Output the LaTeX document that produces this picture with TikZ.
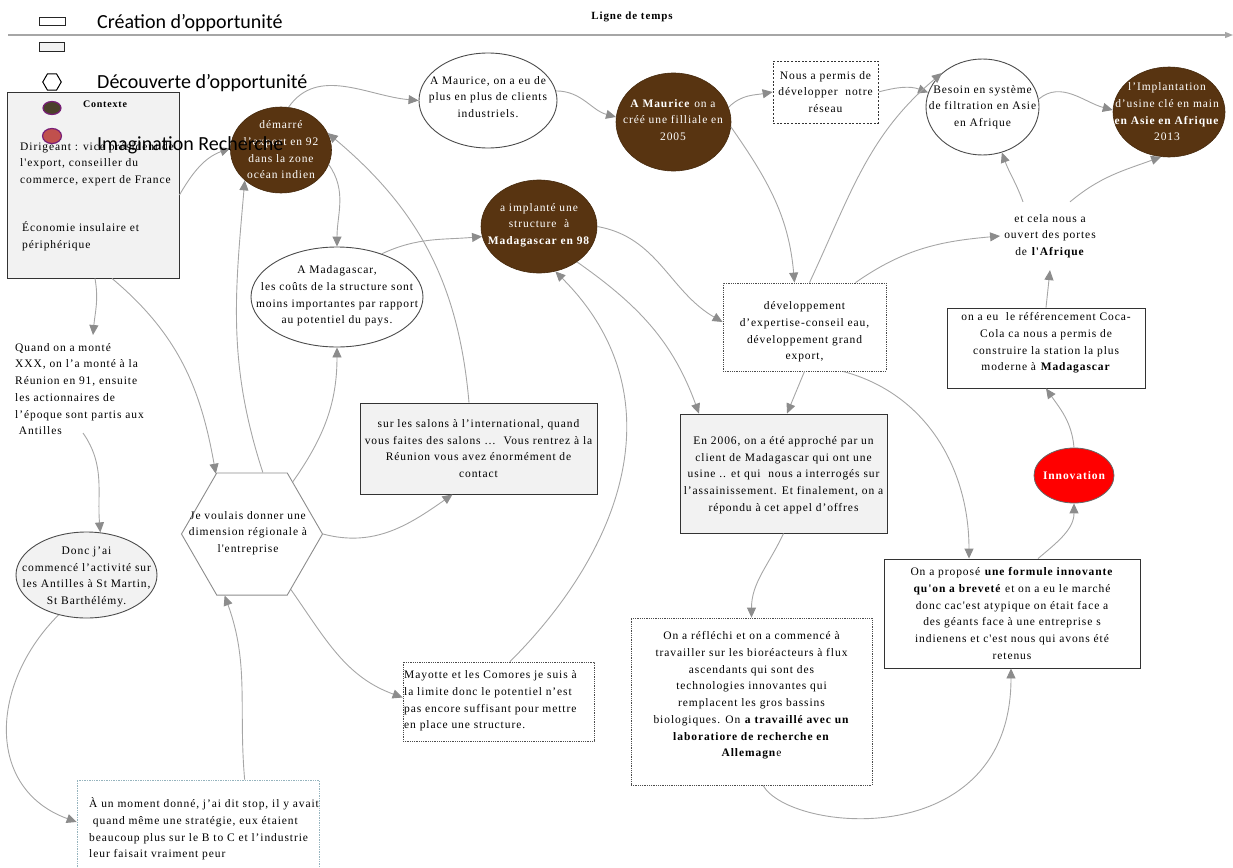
\documentclass[tikz,border=0pt]{standalone}
\usepackage{fontspec}
\newfontfamily\serfnt{Liberation Serif}[LetterSpace=8]
\newfontfamily\legfnt{Carlito}
\usetikzlibrary{shapes.geometric,arrows.meta,calc}
\definecolor{brownN}{RGB}{88,52,17}
\definecolor{conncol}{RGB}{166,166,166}
\definecolor{tipcol}{RGB}{140,140,140}
\definecolor{boxfill}{RGB}{242,242,242}
\definecolor{purp}{RGB}{120,30,120}
\definecolor{legdark}{RGB}{74,64,42}
\definecolor{legred}{RGB}{192,80,77}
\definecolor{momcol}{RGB}{150,180,190}
\tikzset{
  conn/.style={draw=conncol, line width=0.9pt, -{Triangle[length=10pt,width=9pt,color=tipcol]}},
  txt/.style={font=\serfnt\fontsize{11.5}{16.7}\selectfont, align=center, inner sep=0pt},
  wtxt/.style={txt, text=white},
  brownell/.style={ellipse, fill=brownN, draw=brownN!80!black, line width=0.6pt, inner sep=0pt},
  whiteell/.style={ellipse, draw=black!70, fill=white, line width=0.9pt, inner sep=0pt},
  sbox/.style={rectangle, draw=black!80, line width=0.9pt, fill=white, inner sep=0pt},
  gbox/.style={sbox, fill=boxfill},
  dbox/.style={rectangle, draw=black!70, densely dotted, line width=0.8pt, fill=white, inner sep=0pt},
  legtxt/.style={font=\legfnt\fontsize{20}{24}\selectfont, anchor=west, inner sep=0pt},
}
\begin{document}
\begin{tikzpicture}[x=1pt,y=-1pt]
\useasboundingbox (0,0) rectangle (1233,867);

% timeline
\coordinate (tlA) at (8,35);
\coordinate (tlB) at (1233,35);
\draw[draw=black!35, line width=1.3pt, -{Triangle[length=8pt,width=6pt]}] (tlA) -- (tlB);
\node[font=\serfnt\bfseries\fontsize{11}{13}\selectfont, inner sep=0] (LT) at (632,17) {Ligne de temps};

% context box
\node[gbox, minimum width=172pt, minimum height=186pt] (C) at (93,185) {};
\node[txt, font=\serfnt\bfseries\fontsize{10}{12}\selectfont] (CTt) at (105,104) {Contexte};
\node[txt, align=left, anchor=west] (CT1) at (20,164) {Dirigeant : vice président de\\l'export, conseiller du\\commerce, expert de France};
\node[txt, align=left, anchor=west] (CT2) at (22,236) {Économie insulaire et\\périphérique};

% ellipses
\node[brownell, minimum width=101pt, minimum height=86pt] (D) at (281,150) {};
\node[wtxt] (Dt) at (281,150) {démarré\\l’export en 92\\dans la zone\\océan indien};
\node[whiteell, minimum width=138pt, minimum height=95pt] (AM) at (488,100.5) {};
\node[txt] (AMt) at (488,97) {A Maurice, on a eu de\\plus en plus de clients\\industriels.};
\node[brownell, minimum width=115pt, minimum height=98pt] (AMB) at (673.5,122) {};
\node[wtxt] (AMBt) at (673,120) {\textbf{A Maurice} on a\\créé une filliale en\\2005};
\node[rectangle, draw=black!80, dashed, dash pattern=on 2pt off 1.6pt, line width=0.8pt, fill=white, minimum width=105pt, minimum height=62pt, inner sep=0] (NAP) at (825.5,92) {};
\node[txt] (NAPt) at (825.5,92) {Nous a permis de\\développer~ notre\\réseau};
\node[whiteell, minimum width=113pt, minimum height=96pt] (B) at (982.5,107) {};
\node[txt] (Bt) at (982.5,107) {Besoin en système\\de filtration en Asie\\en Afrique};
\node[brownell, minimum width=112pt, minimum height=90pt] (IMP) at (1169,112) {};
\node[wtxt] (IMPt) at (1167,112) {l’Implantation\\d’usine clé en main\\\textbf{en Asie en Afrique}\\2013};
\node[brownell, minimum width=116pt, minimum height=93pt] (AI) at (539,226.5) {};
\node[wtxt] (AIt) at (539,225) {a implanté une\\structure~ à\\\textbf{Madagascar en 98}};
\node[whiteell, minimum width=172pt, minimum height=100pt] (AMAD) at (337,297) {};
\node[txt] (AMADt) at (337,296) {A Madagascar,\\les coûts de la structure sont\\moins importantes par rapport\\au potentiel du pays.};
\node[ellipse, draw=black!70, fill=boxfill, line width=0.9pt, inner sep=0, minimum width=141pt, minimum height=86pt] (DONC) at (86.5,575) {};
\node[txt] (DONCt) at (86.5,577) {Donc j’ai\\commencé l’activité sur\\les Antilles à St Martin,\\St Barthélémy.};
\node[ellipse, fill=red, draw=black!60, line width=0.8pt, inner sep=0, minimum width=80pt, minimum height=55pt] (INN) at (1074,475.5) {};
\node[wtxt, font=\serfnt\bfseries\fontsize{11.5}{14}\selectfont] (INNt) at (1074,475.5) {Innovation};

% hexagon
\node[regular polygon, regular polygon sides=6, draw=black!45, line width=0.9pt, fill=white, minimum size=141pt, inner sep=0] (HEX) at (252,534) {};
\node[txt] (HEXt) at (248,533) {Je voulais donner une\\dimension régionale à\\l'entreprise};

% boxes
\node[dbox, minimum width=163pt, minimum height=88pt] (DEV) at (804.5,327) {};
\node[txt] (DEVt) at (804.5,332) {développement\\d’expertise-conseil eau,\\développement grand\\export,};
\node[txt, inner xsep=4pt, inner ysep=12pt] (ET) at (1050,236) {et cela nous a\\ouvert des portes\\de \textbf{l'Afrique}};
\node[sbox, minimum width=198pt, minimum height=80pt] (REF) at (1046,348) {};
\node[txt] (REFt) at (1046,343) {on a eu~ le référencement Coca-\\Cola ca nous a permis de\\construire la station la plus\\moderne à \textbf{Madagascar}};
\node[txt, align=left, anchor=north west] (Q) at (15,343) {Quand on a monté\\XXX, on l’a monté à la\\Réunion en 91, ensuite\\les actionnaires de\\l’époque sont partis aux\\~Antilles};
\node[gbox, minimum width=237pt, minimum height=91pt] (SAL) at (478.5,448.5) {};
\node[txt] (SALt) at (478.5,448.5) {sur les salons à l’international, quand\\vous faites des salons …~ Vous rentrez à la\\Réunion vous avez énormément de\\contact};
\node[gbox, minimum width=207pt, minimum height=119pt] (E06) at (783.5,473.5) {};
\node[txt] (E06t) at (783.5,475) {En 2006, on a été approché par un\\client de Madagascar qui ont une\\usine .. et qui~ nous a interrogés sur\\l’assainissement. Et finalement, on a\\répondu à cet appel d’offres};
\node[sbox, minimum width=256pt, minimum height=109pt] (PRO) at (1012,613.5) {};
\node[txt] (PROt) at (1012,613.5) {On a proposé \textbf{une formule innovante}\\\textbf{qu'on a breveté} et on a eu le marché\\donc cac'est atypique on était face a\\des géants face à une entreprise s\\indienens et c'est nous qui avons été\\retenus};
\node[dbox, minimum width=241pt, minimum height=167pt] (REF2) at (751.5,701.5) {};
\node[txt] (REF2t) at (751.5,695.5) {On a réfléchi et on a commencé à\\travailler sur les bioréacteurs à flux\\ascendants qui sont des\\technologies innovantes qui\\remplacent les gros bassins\\biologiques. On \textbf{a travaillé avec un}\\\textbf{laboratiore de recherche en}\\\textbf{Allemagn}e};
\node[dbox, minimum width=191pt, minimum height=79pt] (MAY) at (498.5,701.5) {};
\node[txt, align=left, anchor=west] (MAYt) at (404,701) {Mayotte et les Comores je suis à\\la limite donc le potentiel n’est\\pas encore suffisant pour mettre\\en place une structure.};
\node[rectangle, draw=momcol, densely dotted, line width=0.7pt, fill=white, inner sep=0, minimum width=242pt, minimum height=120pt] (MOM) at (198,840) {};
\node[txt, align=left, anchor=west] (MOMt) at (89,829) {À un moment donné, j’ai dit stop, il y avait\\~quand même une stratégie, eux étaient\\beaucoup plus sur le B to C et l’industrie\\leur faisait vraiment peur};

% connectors
\draw[conn] ([yshift=-10pt]C.east) to[out=60,in=200] (D.178);
\draw[conn] (D.80) to[out=55,in=175] (AM.180);
\draw[conn] (AM.8) to[out=0,in=165] (AMB.175);
\draw[conn] (AMB.15) to[out=45,in=190] (NAP.west);
\draw[conn] (NAP.east) to[out=15,in=160] (B.165);
\draw[conn] (B.8) to[out=40,in=165] (IMP.178);
\draw[conn] (AMB.-5) to[out=-55,in=95] ([xshift=-10pt]DEV.north);
\draw[conn] ([xshift=5pt]DEV.north) to[out=65,in=220] (B.140);
\draw[conn] ([xshift=51pt]DEV.north) to[out=35,in=185] (ET.west);
\draw[conn] ([xshift=-27pt]ET.north) to[out=110,in=-70] (B.-67);
\draw[conn] ([xshift=20pt]ET.north) to[out=40,in=200] (IMP.-100);
\draw[conn] (REF.north) -- (ET.south);
\draw[conn] (INN.north) to[out=95,in=-55] (REF.south);
\draw[conn] ([xshift=26pt]PRO.north) to[out=40,in=-90] (INN.south);
\draw[conn] ([xshift=38.5pt]DEV.south) to[out=-15,in=90] ([xshift=-43pt]PRO.north);
\draw[conn] (DEV.south) -- ([xshift=3.5pt]E06.north);
\draw[conn] (AI.-43) to[out=-35,in=110] ([xshift=-84.5pt]E06.north);
\draw[conn] (AI.east) to[out=-10,in=150] ([yshift=5pt]DEV.west);
\draw[conn] (AMAD.44) to[out=25,in=185] (AI.190);
\draw[conn] (D.-17) to[out=-55,in=90] (AMAD.north);
\draw[conn] (HEX.52) to[out=55,in=-90] (AMAD.south);
\draw[conn] (HEX.80) to[out=108,in=-95] (D.220);
\draw[conn] ([xshift=19pt]C.south) to[out=-40,in=100] (HEX.121);
\draw[conn] ([xshift=2pt]C.south) to[out=-80,in=85] ([xshift=78pt,yshift=8pt]Q.north west);
\draw[conn] ([xshift=68pt,yshift=-90pt]Q.north west) to[out=-55,in=95] (DONC.72);
\draw[conn] (DONC.235) to[out=225,in=160,looseness=1.2] ([yshift=18pt]MOM.west);
\draw[conn] ([xshift=168pt]MOM.north west) to[out=95,in=-70] (HEX.-114);
\draw[conn] (HEX.-55) to[out=-55,in=160] ([yshift=4pt]MAY.west);
\draw[conn] (HEX.east) to[out=-15,in=215] ([xshift=-26pt]SAL.south);
\draw[conn] ([xshift=-9.5pt]SAL.north) to[out=95,in=-40] (D.20);
\draw[conn] ([xshift=11.5pt]MAY.north) to[out=45,in=-45,looseness=1.1] (AI.-70);
\draw[conn] (E06.south) to[out=-115,in=90] (REF2.north);
\draw[conn] ([xshift=11.5pt]REF2.south) to[out=-60,in=-90,out distance=55pt,in distance=185pt] ([xshift=-1pt]PRO.south);

% legend (on top)
\node[draw=black!85, line width=0.9pt, fill=white, minimum width=26pt, minimum height=8pt, inner sep=0] (lg1) at (52,21) {};
\node[draw=black!85, line width=0.9pt, fill=boxfill, minimum width=25pt, minimum height=9pt, inner sep=0] (lg2) at (51.5,47) {};
\node[regular polygon, regular polygon sides=6, draw=black, line width=1pt, fill=white, minimum size=18.5pt, inner sep=0] (lg3) at (52,82) {};
\node[ellipse, fill=legdark, draw=purp, line width=1.2pt, minimum width=18pt, minimum height=13pt, inner sep=0] (lg4) at (52,108) {};
\node[ellipse, fill=legred, draw=purp, line width=1.2pt, minimum width=19pt, minimum height=15pt, inner sep=0] (lg5) at (52,136) {};
\node[legtxt] (L1) at (97,23) {Création d’opportunité};
\node[legtxt] (L3) at (97,83) {Découverte d’opportunité};
\node[legtxt] (L5) at (97,145) {Imagination Recherche};
\end{tikzpicture}
\end{document}
